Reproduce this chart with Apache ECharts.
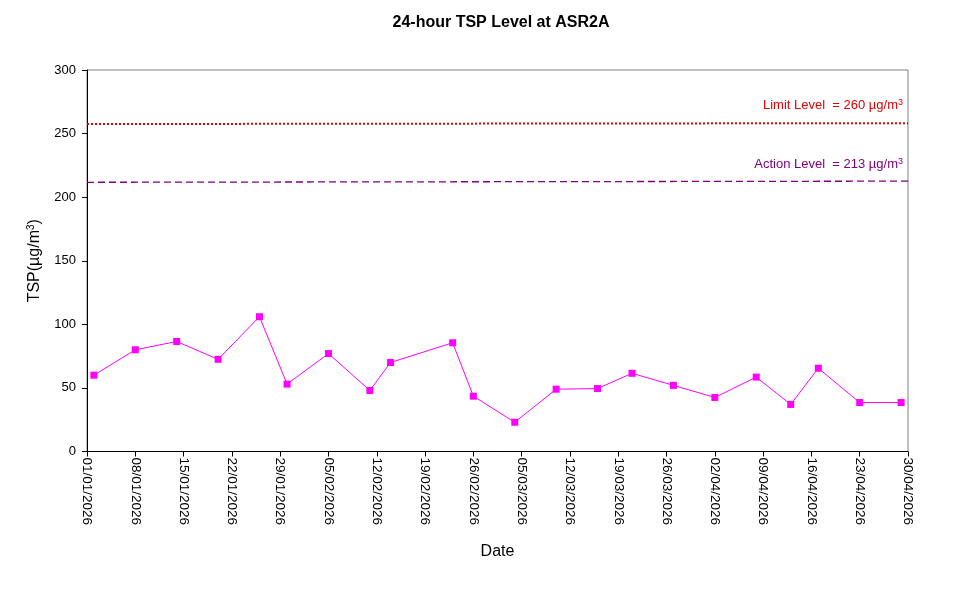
<!DOCTYPE html>
<html>
<head>
<meta charset="utf-8">
<script src="https://cdn.jsdelivr.net/npm/echarts@6/dist/echarts.min.js"></script>
<style>html,body{margin:0;padding:0;background:#fff}#c{width:967px;height:590px}</style>
</head>
<body>
<div id="c"></div>
<script>
const startDate = '2026-01-01';
const endDate = '2026-04-30';
const sampleDates = ['2026-01-02','2026-01-08','2026-01-14','2026-01-20','2026-01-26','2026-01-30','2026-02-05','2026-02-11','2026-02-14','2026-02-23','2026-02-26','2026-03-04','2026-03-10','2026-03-16','2026-03-21','2026-03-27','2026-04-02','2026-04-08','2026-04-13','2026-04-17','2026-04-23','2026-04-29'];
const tspValues = [60, 80, 86.5, 72.5, 106, 53, 77, 48, 70, 85.5, 43.5, 23, 49, 49.5, 61.5, 52, 42.5, 58.5, 37, 65.5, 38.5, 38.5];
const limitLineValues = [257.5, 258.2];
const actionLineValues = [211.7, 212.6];
const yTicks = [0, 50, 100, 150, 200, 250, 300];

const DAY = 86400000;
const t0 = Date.UTC(2026, 0, 1);
function dayIndex(s) { const p = s.split('-').map(Number); return (Date.UTC(p[0], p[1] - 1, p[2]) - t0) / DAY; }
function fmt(d) { const dt = new Date(t0 + d * DAY); const dd = String(dt.getUTCDate()).padStart(2, '0'); const mm = String(dt.getUTCMonth() + 1).padStart(2, '0'); return dd + '/' + mm + '/' + dt.getUTCFullYear(); }
const xMin = dayIndex(startDate), xMax = dayIndex(endDate);

const font = 'Liberation Sans, Arial, sans-serif';
const chart = echarts.init(document.getElementById('c'));
chart.setOption({
  animation: false,
  backgroundColor: '#fff',
  textStyle: { fontFamily: font },
  title: {
    text: '24-hour TSP Level at ASR2A', left: 496, top: 10, textAlign: 'center',
    textStyle: { fontFamily: font, fontSize: 16, fontWeight: 'bold', color: '#000' }
  },
  grid: { left: 87, right: 59, top: 70, bottom: 138.5, show: true, borderColor: '#808080', borderWidth: 1 },
  xAxis: {
    type: 'value', min: xMin, max: xMax, interval: 7,
    name: 'Date', nameLocation: 'middle', nameGap: 92,
    nameTextStyle: { fontFamily: font, fontSize: 16, color: '#000' },
    axisLine: { lineStyle: { color: '#000', width: 1 } },
    axisTick: { show: true, length: 5, inside: false, lineStyle: { color: '#000' } },
    splitLine: { show: false },
    axisLabel: { rotate: -90, formatter: v => fmt(v), color: '#000', fontFamily: font, fontSize: 13.5, margin: 6, showMinLabel: true, showMaxLabel: true }
  },
  yAxis: {
    type: 'value', min: yTicks[0], max: yTicks[yTicks.length - 1], interval: 50,
    name: '{a|TSP(µg/m}{s|3}{a|)}', nameLocation: 'middle', nameGap: 43, nameRotate: 90,
    nameTextStyle: {
      fontFamily: font, fontSize: 16, color: '#000',
      rich: { a: { fontFamily: font, fontSize: 16, color: '#000' }, s: { fontFamily: font, fontSize: 10, color: '#000', verticalAlign: 'top', padding: [0, 0, 8, 0] } }
    },
    axisLine: { show: true, lineStyle: { color: '#000', width: 1 } },
    axisTick: { show: true, length: 5, lineStyle: { color: '#000' } },
    splitLine: { show: false },
    axisLabel: { color: '#000', fontFamily: font, fontSize: 13, margin: 11 }
  },
  series: [
    {
      type: 'line', name: 'Limit', silent: true,
      data: [[xMin, limitLineValues[0]], [xMax, limitLineValues[1]]],
      symbol: 'none', lineStyle: { color: '#e00000', width: 2, type: [2, 2] }
    },
    {
      type: 'line', name: 'Action', silent: true,
      data: [[xMin, actionLineValues[0]], [xMax, actionLineValues[1]]],
      symbol: 'none', lineStyle: { color: '#800080', width: 1.3, type: [7, 4] }
    },
    {
      type: 'line', name: 'TSP',
      data: sampleDates.map((d, i) => [dayIndex(d), tspValues[i]]),
      symbol: 'rect', symbolSize: 7,
      itemStyle: { color: '#ff00ff' },
      lineStyle: { color: '#ff00ff', width: 1 }
    }
  ],
  graphic: [
    {
      type: 'text', right: 64, top: 98,
      style: {
        text: '{a|Limit Level  = 260 µg/m}{s|3}',
        rich: { a: { fontFamily: font, fontSize: 13, fill: '#e00000' }, s: { fontFamily: font, fontSize: 9, fill: '#e00000', verticalAlign: 'top', padding: [0, 0, 6, 0] } }
      }
    },
    {
      type: 'text', right: 64, top: 157,
      style: {
        text: '{a|Action Level  = 213 µg/m}{s|3}',
        rich: { a: { fontFamily: font, fontSize: 13, fill: '#800080' }, s: { fontFamily: font, fontSize: 9, fill: '#800080', verticalAlign: 'top', padding: [0, 0, 6, 0] } }
      }
    }
  ]
});
</script>
</body>
</html>
